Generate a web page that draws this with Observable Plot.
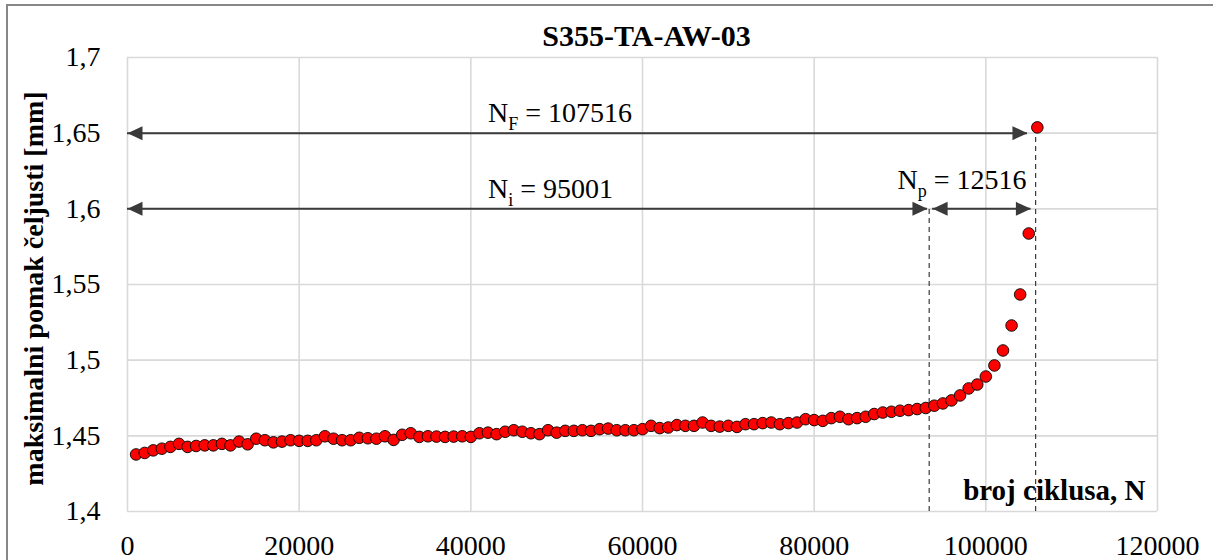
<!DOCTYPE html>
<html><head><meta charset="utf-8">
<script src="https://cdn.jsdelivr.net/npm/d3@7"></script>
<script src="https://cdn.jsdelivr.net/npm/@observablehq/plot@0.6"></script>
<style>
html,body{margin:0;padding:0;background:#fff;}
#wrap{position:relative;width:1213px;height:560px;overflow:hidden;background:#fff;}
#border{position:absolute;left:6px;top:4px;width:1300px;height:700px;border:2px solid #878787;}
#chart{position:absolute;left:0;top:0;}
#chart svg, #chart svg g, #chart svg text, #chart svg tspan{font-family:"Liberation Serif","Times New Roman",serif !important;}
</style></head><body>
<div id="wrap"><div id="border"></div><div id="chart"></div></div>
<script>
// ---- data ----
const cycles = [1000,2000,3000,4000,5000,6000,7000,8000,9000,10000,
11000,12000,13000,14000,15000,16000,17000,18000,19000,20000,
21000,22000,23000,24000,25000,26000,27000,28000,29000,30000,
31000,32000,33000,34000,35000,36000,37000,38000,39000,40000,
41000,42000,43000,44000,45000,46000,47000,48000,49000,50000,
51000,52000,53000,54000,55000,56000,57000,58000,59000,60000,
61000,62000,63000,64000,65000,66000,67000,68000,69000,70000,
71000,72000,73000,74000,75000,76000,77000,78000,79000,80000,
81000,82000,83000,84000,85000,86000,87000,88000,89000,90000,
91000,92000,93000,94000,95000,96000,97000,98000,99000,100000,
101000,102000,103000,104000,105000,106000];
const displacement = [1.4377,1.4387,1.4404,1.4415,1.4427,1.4447,1.4427,1.4433,1.4437,1.4437,
1.4447,1.4437,1.4462,1.4444,1.4481,1.4471,1.4457,1.4462,1.4471,1.4467,
1.4467,1.4471,1.4497,1.4481,1.4471,1.4471,1.4487,1.4484,1.4481,1.4497,
1.4473,1.4507,1.4517,1.4493,1.4497,1.4495,1.4493,1.4495,1.4497,1.4493,
1.4517,1.4521,1.4511,1.4527,1.4537,1.4527,1.4517,1.4511,1.4537,1.4521,
1.4533,1.4533,1.4537,1.4533,1.4544,1.4548,1.4537,1.4537,1.4537,1.4544,
1.4566,1.4551,1.4555,1.4571,1.4566,1.4566,1.4588,1.4566,1.4561,1.4566,
1.4559,1.4577,1.4577,1.4584,1.4588,1.4577,1.4584,1.4588,1.4610,1.4604,
1.4599,1.4617,1.4626,1.4610,1.4617,1.4626,1.4644,1.4654,1.4659,1.4666,
1.4670,1.4677,1.4684,1.4699,1.4714,1.4734,1.4767,1.4813,1.4839,1.4892,
1.4965,1.5064,1.5229,1.5434,1.5837,1.6538];

const xTicks = [0,20000,40000,60000,80000,100000,120000];
const xTickLabels = ["0","20000","40000","60000","80000","100000","120000"];
const yTicks = [1.4,1.45,1.5,1.55,1.6,1.65,1.7];
const yTickLabels = ["1,4","1,45","1,5","1,55","1,6","1,65","1,7"];

const titleText = "S355-TA-AW-03";
const xLabel = "broj ciklusa, N";
const yLabel = "maksimalni pomak čeljusti [mm]";

// annotation arrows (| marks the subscript)
const arrowLabels = ["N|F| = 107516", "N|i| = 95001", "N|p| = 12516"];
const arrowY = [1.65, 1.6, 1.6];
const arrowStart = [0, 0, 93800];
const arrowEnd = [104850, 93200, 105250];
const labelX = [42000, 42000, 89700];
const labelDy = [-11, -11, -20];
const dashX = [93400, 105800];
const dashTop = [1.6, 1.65];

// ---- drawing ----
const serif = '"Liberation Serif", "Times New Roman", serif';
const idx = arrowLabels.map((d, i) => i);
const dashIdx = dashX.map((d, i) => i);
const pts = cycles.map((c, i) => ({c, v: displacement[i]}));
const headRight = {draw(ctx) { ctx.moveTo(0, 0); ctx.lineTo(-15, -7); ctx.lineTo(-15, 7); ctx.closePath(); }};
const headLeft = {draw(ctx) { ctx.moveTo(0, 0); ctx.lineTo(15, -7); ctx.lineTo(15, 7); ctx.closePath(); }};
const ink = "#3a3a3a";

const chart = Plot.plot({
  width: 1213, height: 560,
  marginLeft: 127, marginRight: 56, marginTop: 57, marginBottom: 49,
  style: {fontFamily: serif, fontSize: "28px", color: "#000", background: "transparent", overflow: "visible"},
  x: {domain: [0, 120000], ticks: xTicks, tickFormat: d => xTickLabels[xTicks.indexOf(d)], tickSize: 0, tickPadding: 24, label: null},
  y: {domain: [1.4, 1.7], ticks: yTicks, tickFormat: d => yTickLabels[yTicks.indexOf(d)], tickSize: 0, tickPadding: 27, label: null},
  marks: [
    Plot.ruleX(xTicks, {x: d => d, stroke: "#d9d9d9", strokeWidth: 1.6}),
    Plot.ruleY(yTicks, {y: d => d, stroke: "#d9d9d9", strokeWidth: 1.6}),
    Plot.ruleX(dashIdx, {x: i => dashX[i], y1: 1.4, y2: i => dashTop[i], stroke: ink, strokeWidth: 1.2, strokeDasharray: "5,4"}),
    Plot.ruleY(idx, {y: i => arrowY[i], x1: i => arrowStart[i], x2: i => arrowEnd[i], stroke: ink, strokeWidth: 2}),
    Plot.dot(idx, {x: i => arrowEnd[i], y: i => arrowY[i], symbol: headRight, r: 7, fill: ink, stroke: "none"}),
    Plot.dot(idx, {x: i => arrowStart[i], y: i => arrowY[i], symbol: headLeft, r: 7, fill: ink, stroke: "none"}),
    Plot.dot(pts, {x: "c", y: "v", r: 5.8, fill: "#ff0000", stroke: "#000", strokeWidth: 0.9}),
    ...idx.map(i => Plot.text([arrowLabels[i]], {x: () => labelX[i], y: () => arrowY[i], text: d => d, textAnchor: "start", lineAnchor: "bottom", dy: labelDy[i], fontSize: 28, fontFamily: serif, fill: "#000"})),
    Plot.text([titleText], {frameAnchor: "top", text: d => d, dx: 4, dy: -12, lineAnchor: "bottom", fontWeight: "bold", fontSize: 30, fontFamily: serif, fill: "#000"}),
    Plot.text([xLabel], {frameAnchor: "bottom-right", text: d => d, textAnchor: "end", lineAnchor: "bottom", dx: -12, dy: -12, fontWeight: "bold", fontSize: 29, fontFamily: serif, fill: "#000"}),
    Plot.text([yLabel], {frameAnchor: "left", text: d => d, rotate: -90, textAnchor: "middle", lineAnchor: "bottom", dx: -85, dy: 4, fontWeight: "bold", fontSize: 28, fontFamily: serif, fill: "#000"})
  ]
});

// subscripts as real tspans
const ns = "http://www.w3.org/2000/svg";
chart.querySelectorAll("text").forEach(t => {
  const s = t.textContent;
  if (!s.includes("|")) return;
  const [a, b, c] = s.split("|");
  t.textContent = "";
  const t1 = document.createElementNS(ns, "tspan"); t1.textContent = a;
  const t2 = document.createElementNS(ns, "tspan"); t2.textContent = b; t2.setAttribute("font-size", "18"); t2.setAttribute("dy", "8");
  const t3 = document.createElementNS(ns, "tspan"); t3.textContent = c; t3.setAttribute("dy", "-8");
  t.append(t1, t2, t3);
});

document.getElementById("chart").appendChild(chart);
</script>
</body></html>
